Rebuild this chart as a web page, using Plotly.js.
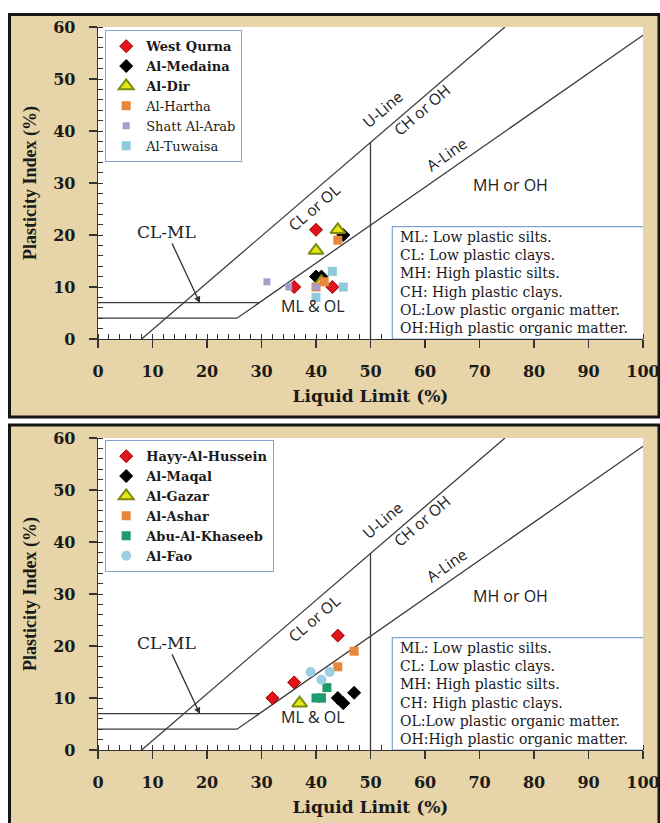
<!DOCTYPE html>
<html>
<head>
<meta charset="utf-8">
<script src="https://cdn.plot.ly/plotly-3.0.1.min.js"></script>
<style>
html,body{margin:0;padding:0;background:#ffffff;}
#chart{width:660px;height:823px;}
</style>
</head>
<body>
<div id="chart"></div>
<script>
// ---------- Data (top panel) ----------
var topSites = ["West Qurna", "Al-Medaina", "Al-Dir", "Al-Hartha", "Shatt Al-Arab", "Al-Tuwaisa"];
var westQurnaLL = [40, 36, 43];
var westQurnaPI = [21, 10, 10];
var alMedainaLL = [40, 41, 45];
var alMedainaPI = [12, 12, 20];
var alDirLL = [44, 40, 41];
var alDirPI = [21, 17, 11];
var alHarthaLL = [44, 41.5, 40];
var alHarthaPI = [19, 11, 10];
var shattLL = [31, 35, 40];
var shattPI = [11, 10, 10];
var tuwaisaLL = [43, 45, 40];
var tuwaisaPI = [13, 10, 8];

// ---------- Data (bottom panel) ----------
var bottomSites = ["Hayy-Al-Hussein", "Al-Maqal", "Al-Gazar", "Al-Ashar", "Abu-Al-Khaseeb", "Al-Fao"];
var husseinLL = [44, 36, 32];
var husseinPI = [22, 13, 10];
var maqalLL = [44, 45, 47];
var maqalPI = [10, 9, 11];
var gazarLL = [37];
var gazarPI = [9];
var asharLL = [47, 44, 41];
var asharPI = [19, 16, 10];
var khaseebLL = [42, 40, 41];
var khaseebPI = [12, 10, 10];
var faoLL = [39, 42.5, 41];
var faoPI = [15, 15, 13.5];

// ---------- Plasticity chart reference lines ----------
var uLineLL = [8, 74.67];
var uLinePI = [0, 60];
var aLineLL = [0, 25.5, 100];
var aLinePI = [4, 4, 58.4];
var clmlTopLL = [0, 29.6];
var clmlTopPI = [7, 7];
var ll50LL = [50, 50];
var ll50PI = [0, 37.8];

var tickVals = [0, 10, 20, 30, 40, 50, 60, 70, 80, 90, 100];
var legendDefs = ["ML: Low plastic silts.", "CL: Low plastic clays.", "MH: High plastic silts.",
  "CH: High plastic clays.", "OL:Low plastic organic matter.", "OH:High plastic organic matter."];

// ---------- Styles ----------
var styleTop = [
  {symbol: "diamond", size: 10, color: "#e0141b", line: {color: "#a00000", width: 1}, bold: true},
  {symbol: "diamond", size: 10, color: "#000000", line: {color: "#000000", width: 1}, bold: true},
  {symbol: "triangle-up", size: 13, color: "#e4e81a", line: {color: "#7d8c10", width: 2}, bold: true},
  {symbol: "square", size: 9, color: "#e8873a", line: {color: "#e8873a", width: 0}, bold: false},
  {symbol: "square", size: 7, color: "#a79ccd", line: {color: "#a79ccd", width: 0}, bold: false},
  {symbol: "square", size: 9, color: "#8fc9de", line: {color: "#8fc9de", width: 0}, bold: false}
];
var styleBottom = [
  {symbol: "diamond", size: 10, color: "#e0141b", line: {color: "#a00000", width: 1}},
  {symbol: "diamond", size: 10, color: "#000000", line: {color: "#000000", width: 1}},
  {symbol: "triangle-up", size: 13, color: "#e4e81a", line: {color: "#7d8c10", width: 2}},
  {symbol: "square", size: 9, color: "#e8873a", line: {color: "#e8873a", width: 0}},
  {symbol: "square", size: 9, color: "#1f9c6d", line: {color: "#1f9c6d", width: 0}},
  {symbol: "circle", size: 10, color: "#9dcfe2", line: {color: "#9dcfe2", width: 0}}
];

var topLL = [westQurnaLL, alMedainaLL, alDirLL, alHarthaLL, shattLL, tuwaisaLL];
var topPI = [westQurnaPI, alMedainaPI, alDirPI, alHarthaPI, shattPI, tuwaisaPI];
var botLL = [husseinLL, maqalLL, gazarLL, asharLL, khaseebLL, faoLL];
var botPI = [husseinPI, maqalPI, gazarPI, asharPI, khaseebPI, faoPI];

var lineStyle = {color: "#3c3c3c", width: 1.3};
var traces = [];

function addRefLines(xa, ya) {
  var sets = [[uLineLL, uLinePI], [aLineLL, aLinePI], [clmlTopLL, clmlTopPI], [ll50LL, ll50PI]];
  sets.forEach(function (s) {
    traces.push({x: s[0], y: s[1], xaxis: xa, yaxis: ya, mode: "lines", line: lineStyle,
      showlegend: false, hoverinfo: "skip"});
  });
}
addRefLines("x", "y");
addRefLines("x2", "y2");

topSites.forEach(function (name, i) {
  var s = styleTop[i];
  traces.push({
    x: topLL[i], y: topPI[i], xaxis: "x", yaxis: "y", mode: "markers", legend: "legend",
    name: s.bold ? "<b>" + name + "</b>" : name,
    marker: {symbol: s.symbol, size: s.size, color: s.color, line: s.line}
  });
});
bottomSites.forEach(function (name, i) {
  var s = styleBottom[i];
  traces.push({
    x: botLL[i], y: botPI[i], xaxis: "x2", yaxis: "y2", mode: "markers", legend: "legend2",
    name: "<b>" + name + "</b>",
    marker: {symbol: s.symbol, size: s.size, color: s.color, line: s.line}
  });
});

// ---------- Layout helpers ----------
var serif = "DejaVu Serif";
function xAxis(anchor) {
  return {
    range: [0, 100], domain: [0, 1], anchor: anchor, tickvals: tickVals,
    tickfont: {family: serif, size: 16, weight: "bold", color: "#1a1a1a"},
    ticks: "outside", ticklen: 8, tickwidth: 1.2, tickcolor: "#333",
    ticklabelstandoff: 9,
    minor: {dtick: 2, ticks: "inside", ticklen: 5, tickwidth: 1, tickcolor: "#333", showgrid: false},
    showline: true, linecolor: "#333", linewidth: 1.3, showgrid: false, zeroline: false,
    automargin: false, fixedrange: true,
    title: {text: "<b>Liquid Limit (%)</b>", font: {family: serif, size: 17, color: "#1a1a1a"}, standoff: 10}
  };
}
function yAxis(anchor, domain) {
  return {
    range: [0, 60], domain: domain, anchor: anchor, dtick: 10, tick0: 0,
    tickfont: {family: serif, size: 16, weight: "bold", color: "#1a1a1a"},
    ticks: "outside", ticklen: 8, tickwidth: 1.2, tickcolor: "#333",
    ticklabelstandoff: 10,
    minor: {dtick: 2, ticks: "inside", ticklen: 5, tickwidth: 1, tickcolor: "#333", showgrid: false},
    showline: true, linecolor: "#333", linewidth: 1.3, showgrid: false, zeroline: false,
    automargin: false, fixedrange: true,
    title: {text: "<b>Plasticity Index (%)</b>", font: {family: "Liberation Serif", size: 18, color: "#1a1a1a"}, standoff: 12}
  };
}

var sans = "Open Sans";
function panelAnnotations(xr, yr) {
  var a = [];
  function lbl(text, x, y, ang, size) {
    a.push({text: text, x: x, y: y, xref: xr, yref: yr, showarrow: false, textangle: ang,
      font: {family: sans, size: size, color: "#222"}});
  }
  lbl("U-Line", 52.2, 44.3, -40.7, 15.5);
  lbl("CH or OH", 59.4, 44.0, -40.7, 15.5);
  lbl("CL or OL", 39.7, 25.4, -40.7, 15.5);
  lbl("A-Line", 64, 35.6, -34.9, 15.5);
  lbl("MH or OH", 75.6, 29.6, 0, 16);
  lbl("ML & OL", 39.5, 6.3, 0, 16);
  a.push({text: "CL-ML", x: 18.7, y: 6.9, xref: xr, yref: yr, axref: xr, ayref: yr, ax: 12.6, ay: 20.6,
    showarrow: true, arrowhead: 2, arrowsize: 1, arrowwidth: 1.3, arrowcolor: "#333", standoff: 0,
    font: {family: serif, size: 17, color: "#222"}});
  a.push({text: legendDefs.join("<br>"), x: 55.0, y: 10.8, xref: xr, yref: yr, xanchor: "left",
    yanchor: "middle", align: "left", showarrow: false,
    font: {family: serif, size: 14, color: "#1a1a1a"}});
  return a;
}

// paper coordinate helpers (plot area: x 98..643 px, y 27..750 px)
function px(v) { return (v - 98) / 545; }
function py(v) { return (750 - v) / 723; }

var shapes = [
  // white gaps outside the textured frames
  {type: "rect", xref: "paper", yref: "paper", x0: px(-5), x1: px(670), y0: py(14), y1: py(-5),
    fillcolor: "#ffffff", line: {width: 0}, layer: "below"},
  {type: "rect", xref: "paper", yref: "paper", x0: px(-5), x1: px(670), y0: py(425), y1: py(417),
    fillcolor: "#ffffff", line: {width: 0}, layer: "below"},
  {type: "rect", xref: "paper", yref: "paper", x0: px(-5), x1: px(8), y0: py(830), y1: py(-5),
    fillcolor: "#ffffff", line: {width: 0}, layer: "below"},
  // dark frames
  {type: "rect", xref: "paper", yref: "paper", x0: px(9.5), x1: px(659), y0: py(417), y1: py(14.5),
    line: {color: "#141414", width: 3}, fillcolor: "rgba(0,0,0,0)", layer: "below"},
  {type: "rect", xref: "paper", yref: "paper", x0: px(9.5), x1: px(659), y0: py(830), y1: py(425),
    line: {color: "#141414", width: 3}, fillcolor: "rgba(0,0,0,0)", layer: "below"},
  // definition boxes
  {type: "rect", xref: "x", yref: "y", x0: 54, x1: 100.3, y0: 0, y1: 21.6,
    fillcolor: "#ffffff", line: {color: "#7fa3d3", width: 1.2}, layer: "above"},
  {type: "rect", xref: "x2", yref: "y2", x0: 54, x1: 100.3, y0: 0, y1: 21.6,
    fillcolor: "#ffffff", line: {color: "#7fa3d3", width: 1.2}, layer: "above"}
];

var legendStyle = function (y) {
  return {x: px(105), y: y, xref: "paper", yref: "paper", xanchor: "left", yanchor: "top",
    bgcolor: "#ffffff", bordercolor: "#7fa3d3", borderwidth: 1.2,
    font: {family: serif, size: 13, color: "#1a1a1a"}, itemwidth: 30, tracegroupgap: 0};
};

var layout = {
  width: 660, height: 823,
  margin: {l: 98, r: 17, t: 27, b: 73},
  paper_bgcolor: "#e7d5a9",
  plot_bgcolor: "#ffffff",
  showlegend: true,
  legend: legendStyle(py(30)),
  legend2: legendStyle(py(440)),
  xaxis: xAxis("y"),
  yaxis: yAxis("x", [py(339), 1]),
  xaxis2: xAxis("y2"),
  yaxis2: yAxis("x2", [0, py(438)]),
  annotations: panelAnnotations("x", "y").concat(panelAnnotations("x2", "y2")),
  shapes: shapes
};

Plotly.newPlot("chart", traces, layout, {displayModeBar: false, staticPlot: true});
</script>
</body>
</html>
